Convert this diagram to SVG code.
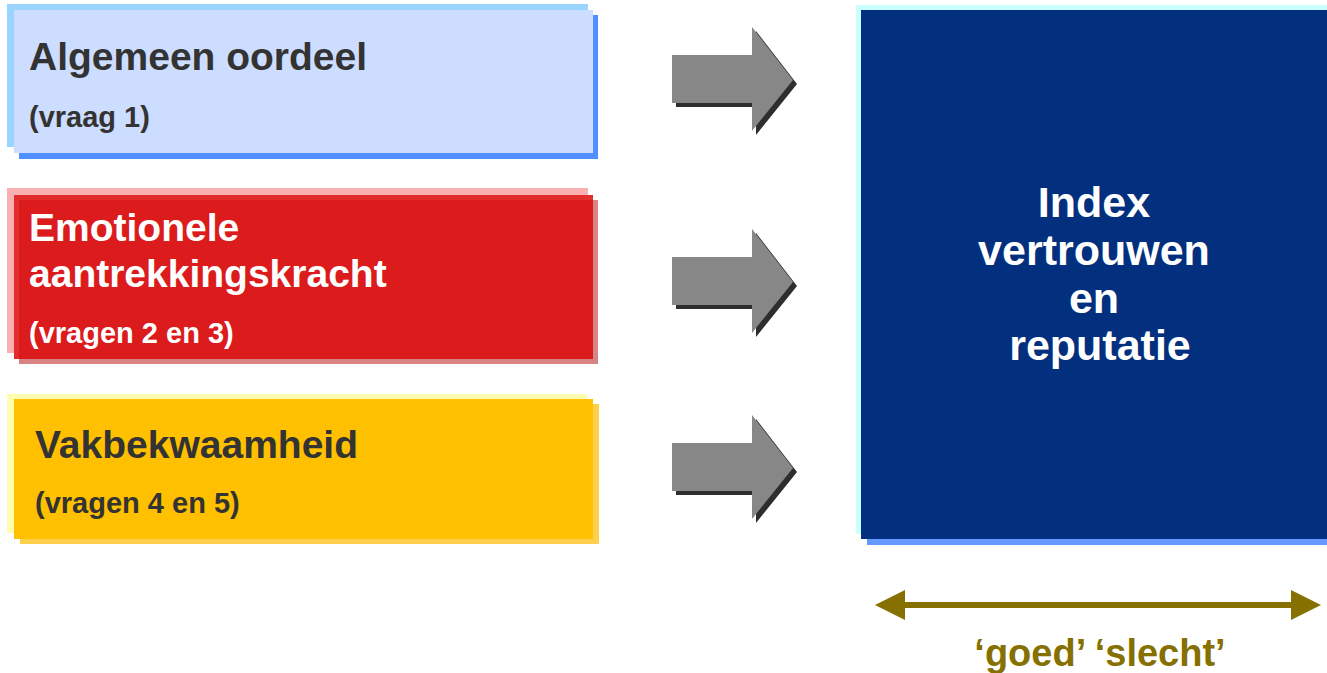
<svg xmlns="http://www.w3.org/2000/svg" width="1327" height="673" viewBox="0 0 1327 673">
<style>
text{font-family:"Liberation Sans",Arial,sans-serif;font-weight:bold}
.t{font-size:39px}
.s{font-size:29px}
.dk{fill:#333333}
.wh{fill:#ffffff}
.ar{fill:#878787}
.as{fill:#2e2e2e}
.big{font-size:43px;fill:#ffffff;text-anchor:middle}
</style>
<defs>
<polygon id="arrow" points="0,0 80,0 80,-28 121,25 80,76 80,48 0,48"/>
</defs>
<rect width="1327" height="673" fill="#ffffff"/>
<g id="box1">
<rect x="7" y="4" width="581" height="143" fill="#99D5FF"/>
<rect x="19" y="15" width="579" height="144" fill="#4F8FFF"/>
<rect x="14" y="10" width="579" height="143" fill="#CCDDFF"/>
<text class="t dk" x="29" y="70">Algemeen oordeel</text>
<text class="s dk" x="29" y="127">(vraag 1)</text>
</g>
<g id="box2">
<rect x="7" y="188" width="581" height="165" fill="#F9B0B0"/>
<rect x="19" y="200" width="579" height="164" fill="#D98484"/>
<rect x="14" y="195" width="579" height="164" fill="#E32C2C"/>
<rect x="19" y="200" width="574" height="159" fill="#DC1B1D"/>
<text class="t wh" x="29" y="241">Emotionele</text>
<text class="t wh" x="29" y="287">aantrekkingskracht</text>
<text class="s wh" x="29" y="343">(vragen 2 en 3)</text>
</g>
<g id="box3">
<rect x="7" y="394" width="580" height="139" fill="#FFFDB0"/>
<rect x="20" y="404" width="579" height="140" fill="#FDCF4C"/>
<rect x="14" y="399" width="579" height="140" fill="#FFC000"/>
<text class="t dk" x="35" y="458">Vakbekwaamheid</text>
<text class="s dk" x="35" y="513">(vragen 4 en 5)</text>
</g>
<g id="index">
<rect x="856" y="5" width="480" height="529" fill="#CCFFFF"/>
<rect x="867" y="16" width="470" height="529" fill="#6699FF"/>
<rect x="861" y="10" width="475" height="529" fill="#03307E"/>
<text class="big" x="1094" y="217">Index</text>
<text class="big" x="1094" y="265">vertrouwen</text>
<text class="big" x="1094" y="313">en</text>
<text class="big" x="1100" y="360">reputatie</text>
</g>
<g id="connectors">
<use href="#arrow" class="as" x="676" y="59"/>
<use href="#arrow" class="ar" x="672" y="55"/>
<use href="#arrow" class="as" x="676" y="261"/>
<use href="#arrow" class="ar" x="672" y="257"/>
<use href="#arrow" class="as" x="676" y="447"/>
<use href="#arrow" class="ar" x="672" y="443"/>
<line x1="903" y1="605" x2="1293" y2="605" stroke="#857000" stroke-width="6"/>
<polygon points="875,605 905,590 905,620" fill="#857000"/>
<polygon points="1321,605 1291,590 1291,620" fill="#857000"/>
</g>
<g id="scale-label">
<text x="1100" y="666" font-size="38" fill="#857000" text-anchor="middle">‘goed’ ‘slecht’</text>
</g>
</svg>
